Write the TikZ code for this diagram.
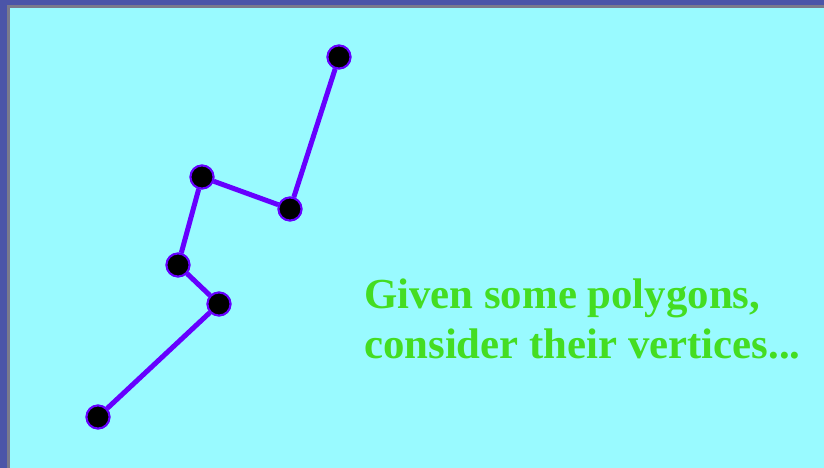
\documentclass[tikz,border=0pt]{standalone}
\usepackage{fontspec}
\setmainfont{Liberation Serif}
\definecolor{frameblue}{HTML}{4B55A8}
\definecolor{framegray}{HTML}{7A7A8C}
\definecolor{bgcyan}{HTML}{99FAFF}
\definecolor{edgeviolet}{HTML}{6600FF}
\definecolor{textgreen}{HTML}{44DD22}
\begin{document}
\begin{tikzpicture}[x=1pt,y=1pt,
  vertex/.style={circle,fill=black,draw=edgeviolet,line width=2pt,minimum size=23pt,inner sep=0pt},
  edge/.style={draw=edgeviolet,line width=5pt}]
\useasboundingbox (0,0) rectangle (824,468);
\fill[frameblue] (0,0) rectangle (824,468);
\fill[framegray] (7,0) rectangle (824,463);
\fill[bgcyan] (10,0) rectangle (824,460);
\node[vertex] (v1) at (339,411) {};
\node[vertex] (v2) at (290,259) {};
\node[vertex] (v3) at (202,291) {};
\node[vertex] (v4) at (178,203) {};
\node[vertex] (v5) at (219,164) {};
\node[vertex] (v6) at (98,51) {};
\draw[edge] (v1) -- (v2) -- (v3) -- (v4) -- (v5) -- (v6);
\foreach \v in {v1,v2,v3,v4,v5,v6} \node[vertex] at (\v) {};
\node[anchor=base west,inner sep=0pt,text=textgreen,font=\fontsize{42.8}{50.5}\selectfont\bfseries,align=left] (t) at (364,109) {Given some polygons,\\consider their vertices...};
\end{tikzpicture}
\end{document}
